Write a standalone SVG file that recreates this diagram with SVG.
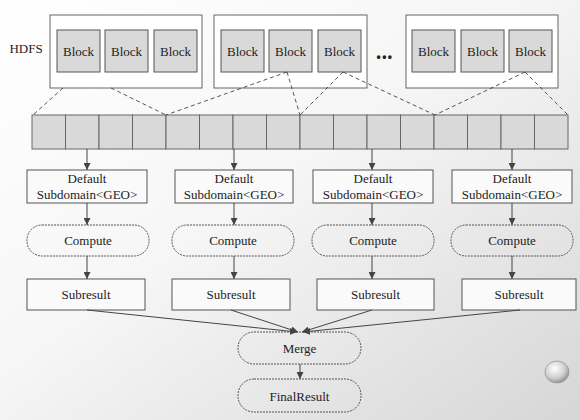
<svg xmlns="http://www.w3.org/2000/svg" width="580" height="420" viewBox="0 0 580 420">
<defs>
<linearGradient id="bg" x1="0" y1="0" x2="1" y2="1">
<stop offset="0" stop-color="#ffffff"/>
<stop offset="0.45" stop-color="#f6f6f6"/>
<stop offset="1" stop-color="#d6d6d6"/>
</linearGradient>
<radialGradient id="ball" cx="0.4" cy="0.35" r="0.7">
<stop offset="0" stop-color="#ffffff"/>
<stop offset="0.6" stop-color="#d0d0d0"/>
<stop offset="1" stop-color="#8a8a8a"/>
</radialGradient>
<marker id="arr" viewBox="0 0 10 10" refX="10" refY="5" markerWidth="7" markerHeight="7" markerUnits="userSpaceOnUse" orient="auto">
<path d="M0,0 L10,5 L0,10 z" fill="#444"/>
</marker>
<style>
.txt{font-family:"Liberation Serif","Times New Roman",serif;font-size:13px;fill:#222;text-anchor:middle}
.grp{fill:#ffffff;stroke:#666;stroke-width:1}
.blk{fill:#d9d9d9;stroke:#555;stroke-width:1}
.cell{fill:#d9d9d9;stroke:#666;stroke-width:1}
.box{fill:#fafafa;stroke:#555;stroke-width:1}
.pill{fill:none;stroke:#555;stroke-width:1;stroke-dasharray:2 1}
.dash{fill:none;stroke:#444;stroke-width:0.9;stroke-dasharray:4 3}
.arw{fill:none;stroke:#444;stroke-width:1;marker-end:url(#arr)}
</style>
</defs>
<rect x="0" y="0" width="580" height="420" fill="url(#bg)"/>
<text class="txt" x="26" y="52.5">HDFS</text>

<g id="hdfs1">
<rect class="grp" x="50" y="15" width="152" height="73"/>
<rect class="blk" x="57" y="30" width="43" height="42"/><text class="txt" x="78.5" y="55.5">Block</text>
<rect class="blk" x="105" y="30" width="43" height="42"/><text class="txt" x="126.5" y="55.5">Block</text>
<rect class="blk" x="154" y="30" width="43" height="42"/><text class="txt" x="175.5" y="55.5">Block</text>
</g>
<g id="hdfs2">
<rect class="grp" x="214" y="15" width="153" height="73"/>
<rect class="blk" x="221" y="30" width="43" height="42"/><text class="txt" x="242.5" y="55.5">Block</text>
<rect class="blk" x="269" y="30" width="43" height="42"/><text class="txt" x="290.5" y="55.5">Block</text>
<rect class="blk" x="318" y="30" width="43" height="42"/><text class="txt" x="339.5" y="55.5">Block</text>
</g>
<text x="385" y="61" style="font-family:'Liberation Sans',Arial,sans-serif;font-size:12px;font-weight:bold;fill:#222;text-anchor:middle;letter-spacing:1.5px">•••</text>
<g id="hdfs3">
<rect class="grp" x="406" y="15" width="152" height="73"/>
<rect class="blk" x="412" y="30" width="43" height="42"/><text class="txt" x="433.5" y="55.5">Block</text>
<rect class="blk" x="461" y="30" width="43" height="42"/><text class="txt" x="482.5" y="55.5">Block</text>
<rect class="blk" x="509" y="30" width="43" height="42"/><text class="txt" x="530.5" y="55.5">Block</text>
</g>

<g id="strip">
<rect class="cell" x="32" y="115" width="33.5" height="34"/>
<rect class="cell" x="65.5" y="115" width="33.5" height="34"/>
<rect class="cell" x="99" y="115" width="33.5" height="34"/>
<rect class="cell" x="132.5" y="115" width="33.5" height="34"/>
<rect class="cell" x="166" y="115" width="33.5" height="34"/>
<rect class="cell" x="199.5" y="115" width="33.5" height="34"/>
<rect class="cell" x="233" y="115" width="33.5" height="34"/>
<rect class="cell" x="266.5" y="115" width="33.5" height="34"/>
<rect class="cell" x="300" y="115" width="33.5" height="34"/>
<rect class="cell" x="333.5" y="115" width="33.5" height="34"/>
<rect class="cell" x="367" y="115" width="33.5" height="34"/>
<rect class="cell" x="400.5" y="115" width="33.5" height="34"/>
<rect class="cell" x="434" y="115" width="33.5" height="34"/>
<rect class="cell" x="467.5" y="115" width="33.5" height="34"/>
<rect class="cell" x="501" y="115" width="33.5" height="34"/>
<rect class="cell" x="534.5" y="115" width="33.5" height="34"/>
</g>

<g id="default1"><rect class="box" x="27" y="170" width="120" height="33"/><text class="txt" x="87" y="182.5">Default</text><text class="txt" x="87" y="199">Subdomain&lt;GEO&gt;</text></g>
<g id="default2"><rect class="box" x="175" y="170" width="118" height="33"/><text class="txt" x="234" y="182.5">Default</text><text class="txt" x="234" y="199">Subdomain&lt;GEO&gt;</text></g>
<g id="default3"><rect class="box" x="313" y="170" width="120" height="33"/><text class="txt" x="373" y="182.5">Default</text><text class="txt" x="373" y="199">Subdomain&lt;GEO&gt;</text></g>
<g id="default4"><rect class="box" x="452" y="170" width="120" height="33"/><text class="txt" x="512" y="182.5">Default</text><text class="txt" x="512" y="199">Subdomain&lt;GEO&gt;</text></g>

<g id="compute1"><rect class="pill" x="27" y="225" width="122" height="31" rx="15"/><text class="txt" x="88" y="245">Compute</text></g>
<g id="compute2"><rect class="pill" x="172" y="225" width="122" height="31" rx="15"/><text class="txt" x="233" y="245">Compute</text></g>
<g id="compute3"><rect class="pill" x="312" y="225" width="122" height="31" rx="15"/><text class="txt" x="373" y="245">Compute</text></g>
<g id="compute4"><rect class="pill" x="451" y="225" width="122" height="31" rx="15"/><text class="txt" x="512" y="245">Compute</text></g>

<g id="sub1"><rect class="box" x="27" y="279" width="118" height="31"/><text class="txt" x="86" y="298.5">Subresult</text></g>
<g id="sub2"><rect class="box" x="172" y="279" width="118" height="31"/><text class="txt" x="231" y="298.5">Subresult</text></g>
<g id="sub3"><rect class="box" x="317" y="279" width="117" height="31"/><text class="txt" x="375.5" y="298.5">Subresult</text></g>
<g id="sub4"><rect class="box" x="462" y="279" width="114" height="31"/><text class="txt" x="519" y="298.5">Subresult</text></g>

<g id="merge"><rect class="pill" x="238" y="332" width="123" height="32" rx="16"/><text class="txt" x="299.5" y="353">Merge</text></g>
<g id="final"><rect class="pill" x="238" y="379" width="123" height="33" rx="16"/><text class="txt" x="299.5" y="400.5">FinalResult</text></g>

<g id="connectors">
<line class="dash" x1="63" y1="88" x2="33" y2="115"/>
<line class="dash" x1="111" y1="88" x2="166" y2="115"/>
<line class="dash" x1="287" y1="72" x2="166" y2="115"/>
<line class="dash" x1="287" y1="72" x2="300" y2="115"/>
<line class="dash" x1="343" y1="72" x2="300" y2="115"/>
<line class="dash" x1="343" y1="72" x2="435" y2="115"/>
<line class="dash" x1="525" y1="72" x2="435" y2="115"/>
<line class="dash" x1="525" y1="72" x2="568" y2="115"/>

<line class="arw" x1="87" y1="149" x2="87" y2="170"/>
<line class="arw" x1="234" y1="149" x2="234" y2="170"/>
<line class="arw" x1="372" y1="149" x2="372" y2="170"/>
<line class="arw" x1="512" y1="149" x2="512" y2="170"/>

<line class="arw" x1="87" y1="203" x2="87" y2="225"/>
<line class="arw" x1="234" y1="203" x2="234" y2="225"/>
<line class="arw" x1="372" y1="203" x2="372" y2="225"/>
<line class="arw" x1="512" y1="203" x2="512" y2="225"/>

<line class="arw" x1="87" y1="256" x2="87" y2="279"/>
<line class="arw" x1="234" y1="256" x2="234" y2="279"/>
<line class="arw" x1="372" y1="256" x2="372" y2="279"/>
<line class="arw" x1="512" y1="256" x2="512" y2="279"/>

<line class="arw" x1="87" y1="310" x2="297" y2="332"/>
<line class="arw" x1="231" y1="310" x2="298" y2="332"/>
<line class="arw" x1="372" y1="310" x2="302" y2="332"/>
<line class="arw" x1="520" y1="310" x2="303" y2="332"/>

<line class="arw" x1="300" y1="364" x2="300" y2="379"/>
</g>

<ellipse cx="557" cy="372" rx="12" ry="11" fill="url(#ball)" stroke="#999" stroke-width="0.8"/>
</svg>
